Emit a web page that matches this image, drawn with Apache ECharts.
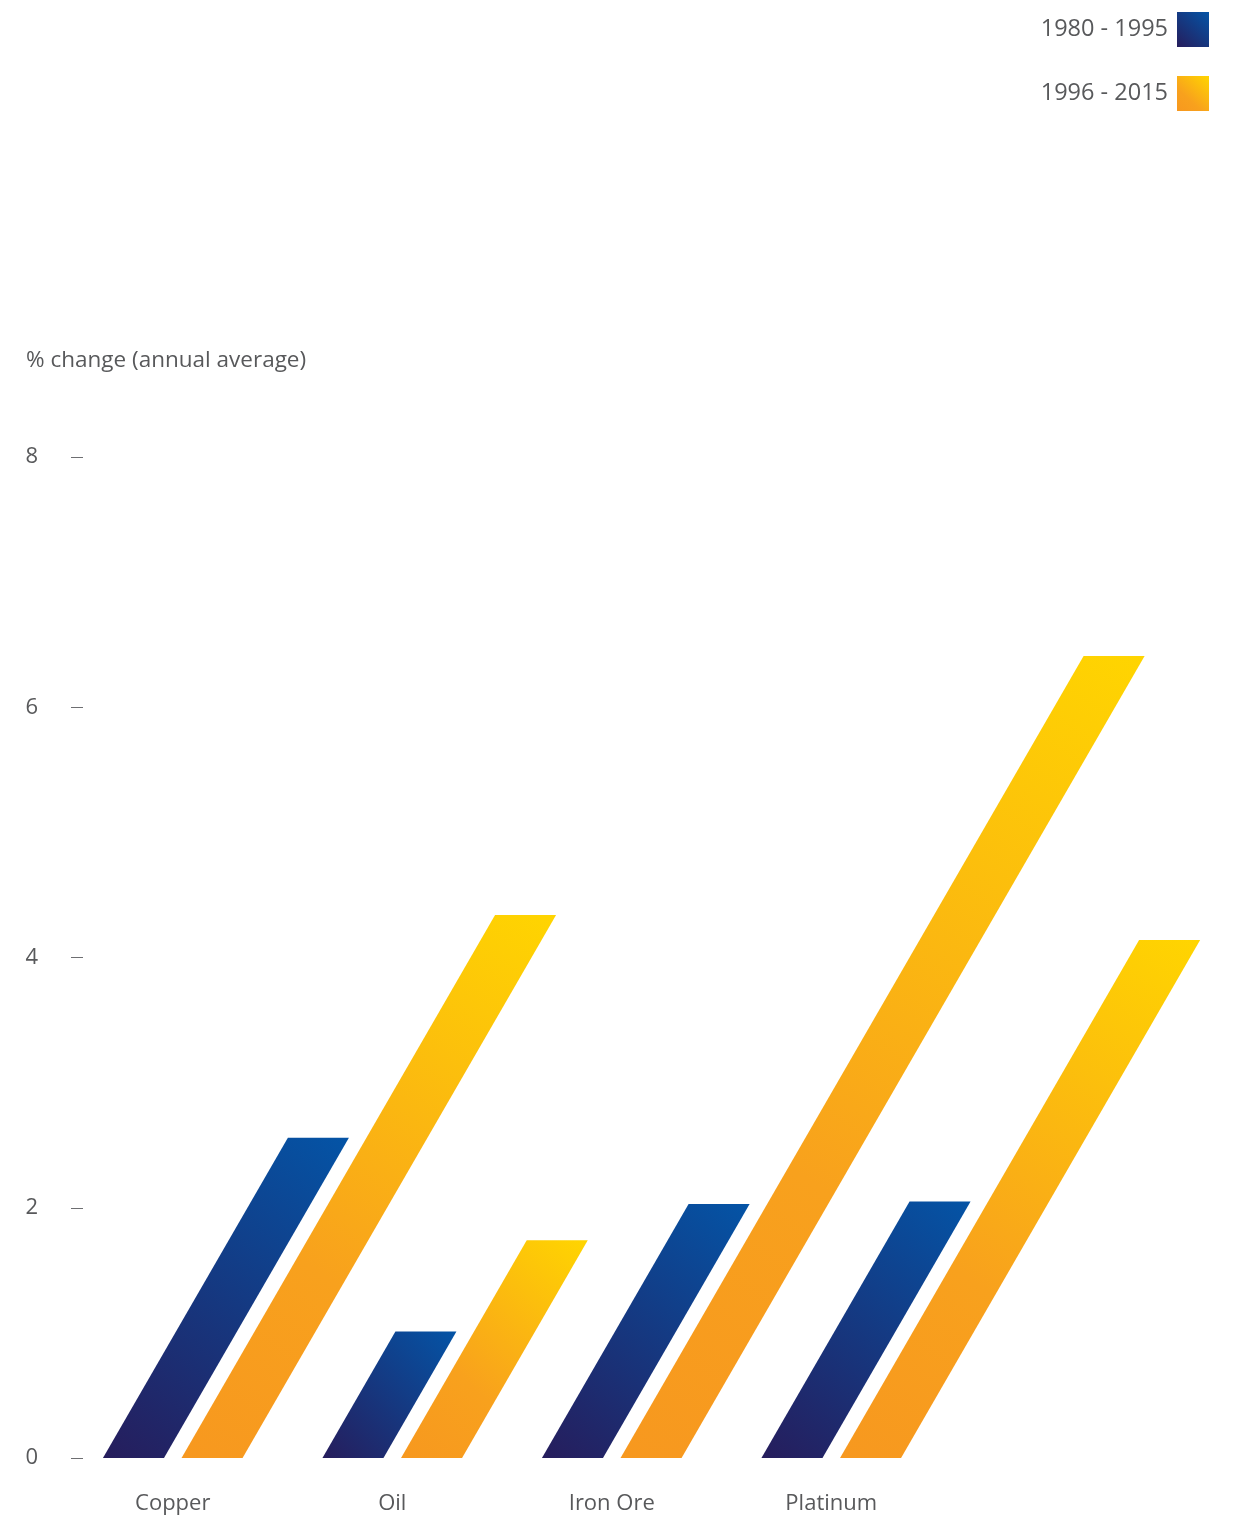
<!DOCTYPE html>
<html>
<head>
<meta charset="utf-8">
<script src="https://cdn.jsdelivr.net/npm/echarts@6.0.0/dist/echarts.min.js"></script>
<style>
  html, body { margin: 0; padding: 0; background: #ffffff; }
  #chart { width: 1233px; height: 1517px; }
</style>
</head>
<body>
<div id="chart"></div>
<script>
// Commodity price change, annual average (%)
const categories = ['Copper', 'Oil', 'Iron Ore', 'Platinum'];
const seriesNames = ['1980 - 1995', '1996 - 2015'];
const earlyPeriod = [2.56, 1.01, 2.03, 2.05];
const latePeriod = [4.34, 1.74, 6.41, 4.14];
const yTicks = [0, 2, 4, 6, 8];

const FONT = '"Open Sans", "Noto Sans", sans-serif';
const TEXT_COLOR = '#58595b';
const SLANT = Math.tan(Math.PI / 6); // bars lean 30 degrees to the right

const blueFill = new echarts.graphic.LinearGradient(0, 1, 1, 0, [
  { offset: 0, color: '#261d5c' },
  { offset: 1, color: '#0454a6' }
]);
const orangeFill = new echarts.graphic.LinearGradient(0, 1, 1, 0, [
  { offset: 0, color: '#f7981f' },
  { offset: 0.35, color: '#f8a11d' },
  { offset: 1, color: '#ffd500' }
]);

// Slanted parallelogram bars; side -1 draws left of the category centre, +1 right of it
function slantedBar(side) {
  return function (params, api) {
    const cat = api.value(0);
    const base = api.coord([cat, 0]);
    const top = api.coord([cat, api.value(1)]);
    const band = api.size([1, 0])[0];
    const w = band * 0.278;
    const gap = band * 0.08;
    const x0 = side < 0 ? base[0] - gap / 2 - w : base[0] + gap / 2;
    const dx = (base[1] - top[1]) * SLANT;
    return {
      type: 'polygon',
      shape: {
        points: [
          [x0, base[1]],
          [x0 + w, base[1]],
          [x0 + w + dx, top[1]],
          [x0 + dx, top[1]]
        ]
      },
      style: api.style()
    };
  };
}

const chart = echarts.init(document.getElementById('chart'), null, { renderer: 'canvas' });

chart.setOption({
  animation: false,
  backgroundColor: '#ffffff',
  title: {
    text: '% change (annual average)',
    left: 26,
    top: 349,
    padding: 0,
    textStyle: { fontFamily: FONT, fontSize: 22.5, fontWeight: 'normal', color: TEXT_COLOR }
  },
  legend: {
    orient: 'vertical',
    right: 19,
    top: 7,
    align: 'right',
    icon: 'rect',
    itemWidth: 32,
    itemHeight: 35,
    itemGap: 29,
    selectedMode: false,
    data: seriesNames,
    textStyle: { fontFamily: FONT, fontSize: 23.5, color: TEXT_COLOR, padding: [0, 4, 0, 0] }
  },
  grid: { left: 63, right: 292, top: 457, bottom: 59 },
  xAxis: {
    type: 'category',
    data: categories,
    axisLine: { show: false },
    axisTick: { show: false },
    axisLabel: { margin: 35, fontFamily: FONT, fontSize: 22, color: TEXT_COLOR }
  },
  yAxis: {
    type: 'value',
    min: yTicks[0],
    max: yTicks[yTicks.length - 1],
    interval: yTicks[1] - yTicks[0],
    offset: -20,
    axisLine: { show: false },
    axisTick: { show: true, length: 12, lineStyle: { color: '#6d6e71', width: 1 } },
    splitLine: { show: false },
    axisLabel: { margin: 45, fontFamily: FONT, fontSize: 22, color: TEXT_COLOR }
  },
  series: [
    {
      name: seriesNames[0],
      type: 'custom',
      renderItem: slantedBar(-1),
      itemStyle: { color: blueFill },
      encode: { x: 0, y: 1 },
      data: earlyPeriod.map((v, i) => [i, v])
    },
    {
      name: seriesNames[1],
      type: 'custom',
      renderItem: slantedBar(1),
      itemStyle: { color: orangeFill },
      encode: { x: 0, y: 1 },
      data: latePeriod.map((v, i) => [i, v])
    }
  ]
});
</script>
</body>
</html>
